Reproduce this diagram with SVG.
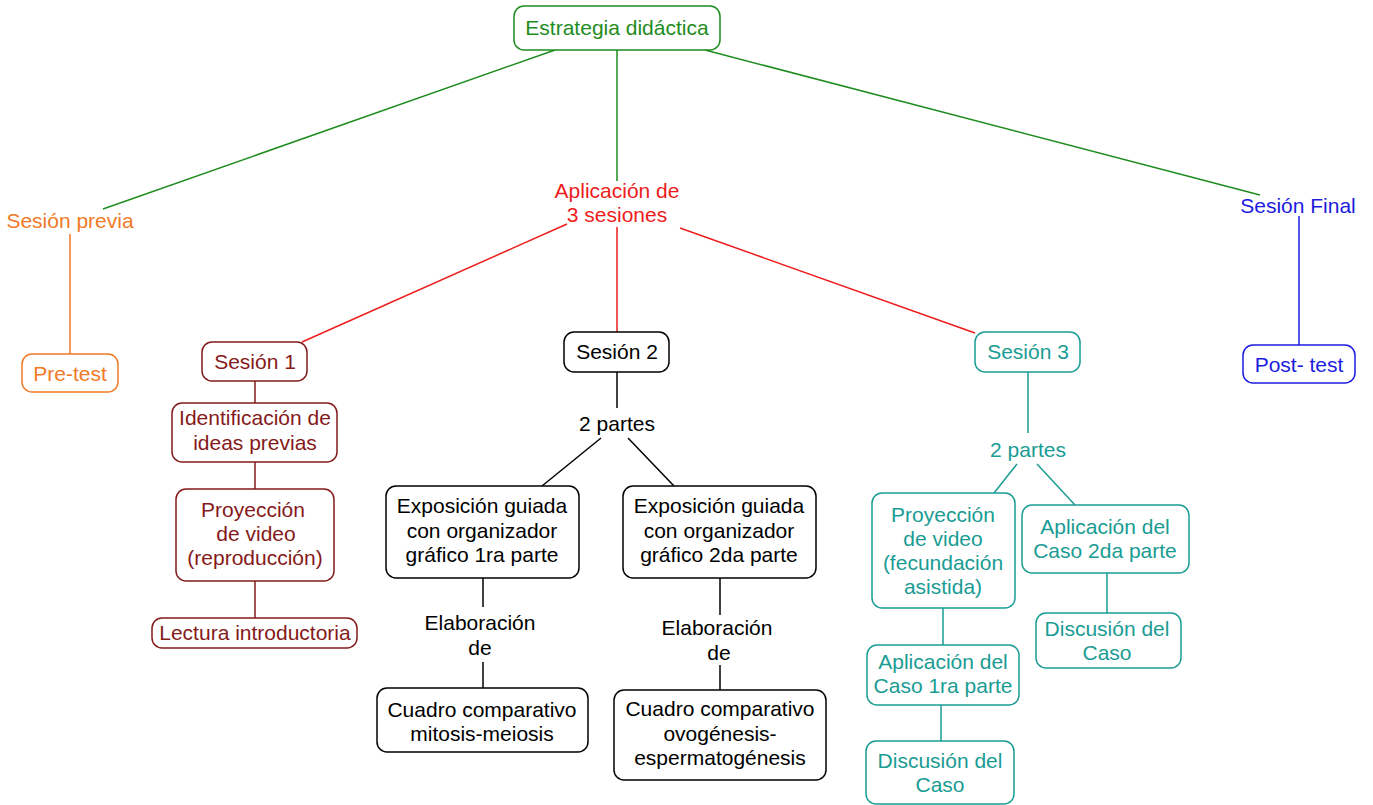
<svg xmlns="http://www.w3.org/2000/svg" width="1373" height="805" viewBox="0 0 1373 805">
<style>
text{font-family:"Liberation Sans",Arial,sans-serif;font-size:21px;text-anchor:middle}
rect{fill:#fff;stroke-width:1.5}
line{stroke-width:1.5}
.g{fill:#1e8c1e}.gs{stroke:#1e8c1e}
.o{fill:#f07a26}.os{stroke:#f07a26}
.r{fill:#ee1c1c}.rs{stroke:#ee1c1c}
.d{fill:#851a1a}.ds{stroke:#851a1a}
.k{fill:#000}.ks{stroke:#000}
.t{fill:#1a9c94}.ts{stroke:#1a9c94}
.b{fill:#1c1ce0}.bs{stroke:#1c1ce0}
</style>
<rect width="1373" height="805" style="fill:#fff;stroke:none"/>
<g id="connectors">
<line class="gs" x1="555" y1="50" x2="103" y2="209"/>
<line class="gs" x1="617" y1="50" x2="617" y2="181"/>
<line class="gs" x1="705" y1="50" x2="1260" y2="195"/>
<line class="os" x1="70" y1="234" x2="70" y2="354"/>
<line class="rs" x1="567" y1="224" x2="302" y2="342"/>
<line class="rs" x1="617" y1="227" x2="617" y2="332"/>
<line class="rs" x1="680" y1="228" x2="975" y2="333"/>
<line class="bs" x1="1299" y1="216" x2="1299" y2="345"/>
<line class="ds" x1="255" y1="381" x2="255" y2="403"/>
<line class="ds" x1="255" y1="462" x2="255" y2="489"/>
<line class="ds" x1="255" y1="581" x2="255" y2="618"/>
<line class="ks" x1="617" y1="372" x2="617" y2="408"/>
<line class="ks" x1="601" y1="438" x2="542" y2="486"/>
<line class="ks" x1="628" y1="438" x2="674" y2="486"/>
<line class="ks" x1="483" y1="578" x2="483" y2="607"/>
<line class="ks" x1="483" y1="662" x2="483" y2="688"/>
<line class="ks" x1="720" y1="578" x2="720" y2="615"/>
<line class="ks" x1="720" y1="665" x2="720" y2="690"/>
<line class="ts" x1="1028" y1="372" x2="1028" y2="433"/>
<line class="ts" x1="1017" y1="464" x2="994" y2="493"/>
<line class="ts" x1="1037" y1="464" x2="1075" y2="505"/>
<line class="ts" x1="943" y1="608" x2="943" y2="645"/>
<line class="ts" x1="941" y1="705" x2="941" y2="741"/>
<line class="ts" x1="1107" y1="573" x2="1107" y2="613"/>
</g>
<g id="estrategia"><rect class="gs" x="514" y="6" width="206" height="44" rx="10"/><text class="g" x="617" y="35">Estrategia didáctica</text></g>
<g id="sesion-previa"><text class="o" x="70" y="228">Sesión previa</text></g>
<g id="pretest"><rect class="os" x="22" y="354" width="96" height="38" rx="10"/><text class="o" x="70" y="381">Pre-test</text></g>
<g id="aplicacion"><text class="r" x="617" y="198">Aplicación de</text><text class="r" x="617" y="222">3 sesiones</text></g>
<g id="sesion-final"><text class="b" x="1298" y="213">Sesión Final</text></g>
<g id="posttest"><rect class="bs" x="1243" y="345" width="112" height="38" rx="10"/><text class="b" x="1299" y="372">Post- test</text></g>
<g id="sesion1"><rect class="ds" x="202" y="342" width="105" height="39" rx="10"/><text class="d" x="255" y="369">Sesión 1</text></g>
<g id="identificacion"><rect class="ds" x="172" y="403" width="165" height="59" rx="10"/><text class="d" x="255" y="425">Identificación de</text><text class="d" x="255" y="450">ideas previas</text></g>
<g id="proyeccion1"><rect class="ds" x="176" y="489" width="158" height="92" rx="10"/><text class="d" x="253" y="517">Proyección</text><text class="d" x="256" y="541">de video</text><text class="d" x="255" y="565">(reproducción)</text></g>
<g id="lectura"><rect class="ds" x="152" y="618" width="205" height="30" rx="10"/><text class="d" x="255" y="640">Lectura introductoria</text></g>
<g id="sesion2"><rect class="ks" x="564" y="332" width="105" height="40" rx="10"/><text class="k" x="617" y="359">Sesión 2</text></g>
<g id="partes2"><text class="k" x="617" y="431">2 partes</text></g>
<g id="exposicion1"><rect class="ks" x="386" y="486" width="193" height="92" rx="10"/><text class="k" x="482" y="513">Exposición guiada</text><text class="k" x="482" y="538">con organizador</text><text class="k" x="482" y="562">gráfico 1ra parte</text></g>
<g id="exposicion2"><rect class="ks" x="623" y="486" width="193" height="92" rx="10"/><text class="k" x="719" y="513">Exposición guiada</text><text class="k" x="719" y="538">con organizador</text><text class="k" x="719" y="562">gráfico 2da parte</text></g>
<g id="elaboracion1"><text class="k" x="480" y="630">Elaboración</text><text class="k" x="480" y="655">de</text></g>
<g id="elaboracion2"><text class="k" x="717" y="635">Elaboración</text><text class="k" x="719" y="660">de</text></g>
<g id="cuadro1"><rect class="ks" x="377" y="688" width="211" height="64" rx="10"/><text class="k" x="482" y="717">Cuadro comparativo</text><text class="k" x="482" y="741">mitosis-meiosis</text></g>
<g id="cuadro2"><rect class="ks" x="614" y="690" width="212" height="90" rx="10"/><text class="k" x="720" y="716">Cuadro comparativo</text><text class="k" x="720" y="741">ovogénesis-</text><text class="k" x="720" y="765">espermatogénesis</text></g>
<g id="sesion3"><rect class="ts" x="975" y="332" width="105" height="40" rx="10"/><text class="t" x="1028" y="359">Sesión 3</text></g>
<g id="partes3"><text class="t" x="1028" y="457">2 partes</text></g>
<g id="proyeccion3"><rect class="ts" x="872" y="493" width="143" height="115" rx="10"/><text class="t" x="943" y="522">Proyección</text><text class="t" x="943" y="546">de video</text><text class="t" x="943" y="570">(fecundación</text><text class="t" x="943" y="594">asistida)</text></g>
<g id="caso2"><rect class="ts" x="1022" y="505" width="167" height="68" rx="10"/><text class="t" x="1105" y="534">Aplicación del</text><text class="t" x="1105" y="558">Caso 2da parte</text></g>
<g id="discusion2"><rect class="ts" x="1036" y="613" width="145" height="55" rx="10"/><text class="t" x="1107" y="636">Discusión del</text><text class="t" x="1107" y="660">Caso</text></g>
<g id="caso1"><rect class="ts" x="867" y="645" width="152" height="60" rx="10"/><text class="t" x="943" y="669">Aplicación del</text><text class="t" x="943" y="693">Caso 1ra parte</text></g>
<g id="discusion1"><rect class="ts" x="866" y="741" width="148" height="63" rx="10"/><text class="t" x="940" y="768">Discusión del</text><text class="t" x="940" y="792">Caso</text></g>
</svg>
